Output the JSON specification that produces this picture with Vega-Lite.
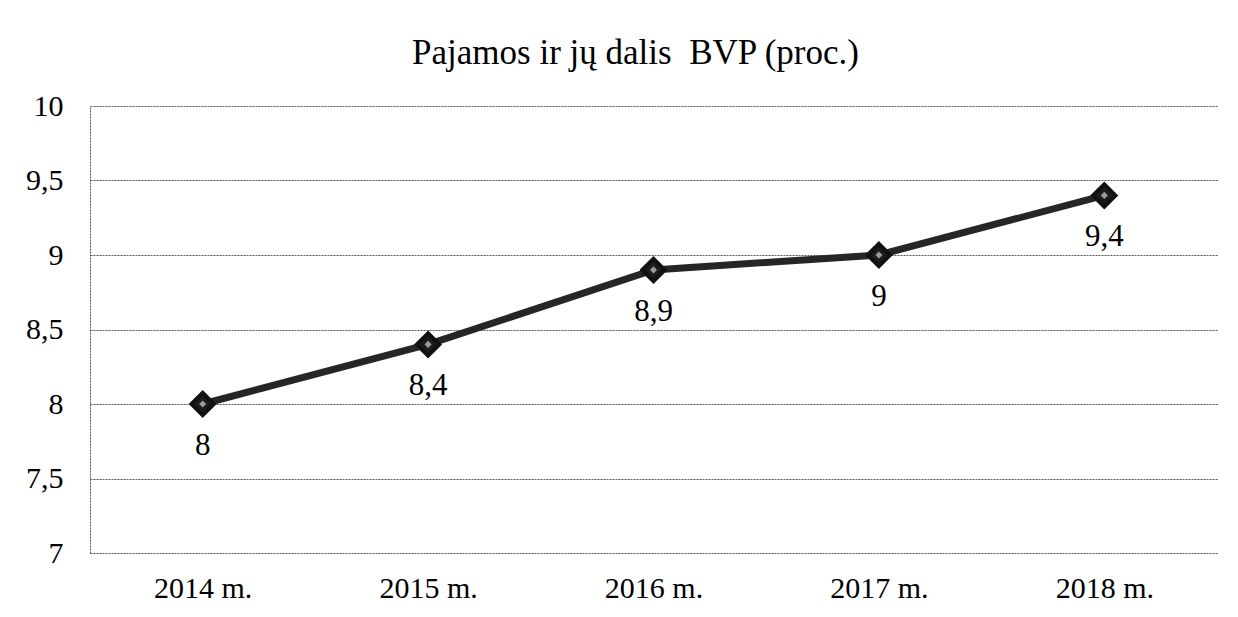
{
  "$schema": "https://vega.github.io/schema/vega-lite/v6.json",
  "autosize": {"type": "none"},
  "width": 1127,
  "height": 447,
  "padding": {"left": 90, "top": 106, "right": 21, "bottom": 64},
  "background": "white",
  "title": {
    "text": "Pajamos ir jų dalis\u00a0 BVP (proc.)",
    "font": "Liberation Serif",
    "fontSize": 35,
    "fontWeight": "normal",
    "color": "#000000",
    "anchor": "middle",
    "dx": -18,
    "baseline": "alphabetic",
    "offset": -8
  },
  "data": {
    "values": [
      {"metai": "2014 m.", "reiksme": 8},
      {"metai": "2015 m.", "reiksme": 8.4},
      {"metai": "2016 m.", "reiksme": 8.9},
      {"metai": "2017 m.", "reiksme": 9},
      {"metai": "2018 m.", "reiksme": 9.4}
    ]
  },
  "encoding": {
    "x": {
      "field": "metai",
      "type": "ordinal",
      "sort": null,
      "scale": {"type": "point", "padding": 0.5},
      "axis": {
        "title": null,
        "labelAngle": 0,
        "domain": false,
        "ticks": false,
        "labelFont": "Liberation Serif",
        "labelFontSize": 30,
        "labelColor": "#000000",
        "labelBaseline": "middle",
        "labelPadding": 35
      }
    },
    "y": {
      "field": "reiksme",
      "type": "quantitative",
      "scale": {"domain": [7, 10], "nice": false, "zero": false},
      "axis": {
        "title": null,
        "values": [7, 7.5, 8, 8.5, 9, 9.5, 10],
        "format": ".1~f",
        "ticks": false,
        "grid": true,
        "gridColor": "#555555",
        "gridDash": [2, 1],
        "gridWidth": 1,
        "domain": true,
        "domainColor": "#555555",
        "domainDash": [2, 1],
        "domainWidth": 1,
        "labelFont": "Liberation Serif",
        "labelFontSize": 30,
        "labelColor": "#000000",
        "labelPadding": 27
      }
    }
  },
  "layer": [
    {
      "mark": {"type": "line", "color": "#262626", "strokeWidth": 7}
    },
    {
      "mark": {"type": "point", "shape": "diamond", "filled": true, "color": "#1c1c1c", "size": 500, "stroke": "#111111", "strokeWidth": 4, "opacity": 1}
    },
    {
      "mark": {"type": "point", "shape": "diamond", "filled": true, "color": "#9a9a9a", "size": 50, "opacity": 1}
    },
    {
      "mark": {"type": "text", "font": "Liberation Serif", "fontSize": 31, "color": "#000000", "baseline": "middle", "dy": 42},
      "encoding": {"text": {"field": "reiksme", "type": "quantitative", "format": ".1~f"}}
    }
  ],
  "config": {
    "locale": {
      "number": {"decimal": ",", "thousands": " ", "grouping": [3], "currency": ["", " €"]}
    },
    "view": {"stroke": null}
  }
}
